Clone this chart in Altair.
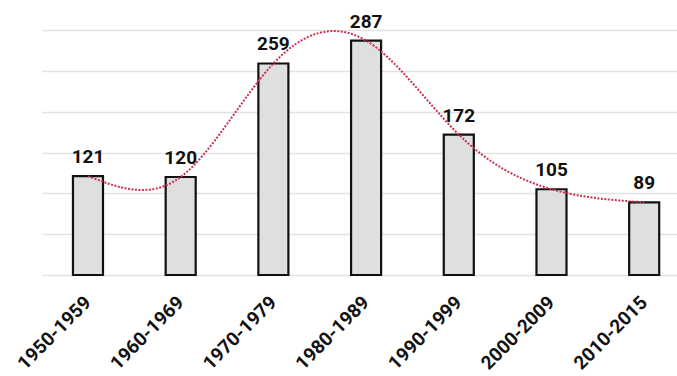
import altair as alt
import pandas as pd

periods = ["1950-1959", "1960-1969", "1970-1979", "1980-1989", "1990-1999", "2000-2009", "2010-2015"]
counts = [121, 120, 259, 287, 172, 105, 89]

df = pd.DataFrame({"period": periods, "count": counts})

FONT = "Roboto"

x = alt.X("period:N", sort=periods, title=None,
          scale=alt.Scale(paddingInner=0.676, paddingOuter=0.263, align=0.635),
          axis=alt.Axis(labelAngle=-45, labelAlign="right", labelBaseline="middle",
                        labelFont=FONT, labelFontWeight="bold", labelFontSize=19,
                        labelColor="#111111", labelPadding=24, ticks=False, domain=False,
                        grid=False))
y = alt.Y("count:Q", title=None,
          scale=alt.Scale(domain=[0, 300], nice=False),
          axis=alt.Axis(values=[0, 50, 100, 150, 200, 250, 300], labels=False, ticks=False,
                        domain=False, grid=True, gridColor="#e2e2e2", gridWidth=1.5))

base = alt.Chart(df)

bars = base.mark_bar(fill="#dedfdf", stroke="#111111", strokeWidth=2.2).encode(x=x, y=y)

line = base.mark_line(color="#d0304f", strokeWidth=2, strokeDash=[2, 1.5],
                      interpolate="natural").encode(x=x, y=y)

labels = base.mark_text(font=FONT, fontWeight="bold", fontSize=19, color="#111111",
                        baseline="bottom", dy=-9).encode(x=x, y=y, text="count:Q")

chart = alt.layer(bars, line, labels).properties(
    width=635, height=245,
    autosize=alt.AutoSizeParams(type="none"),
    padding={"left": 42, "top": 30, "right": 0, "bottom": 101},
    background="white",
).configure_view(stroke=None)

chart.save("out.html", embed_options={"renderer": "svg", "actions": False})
